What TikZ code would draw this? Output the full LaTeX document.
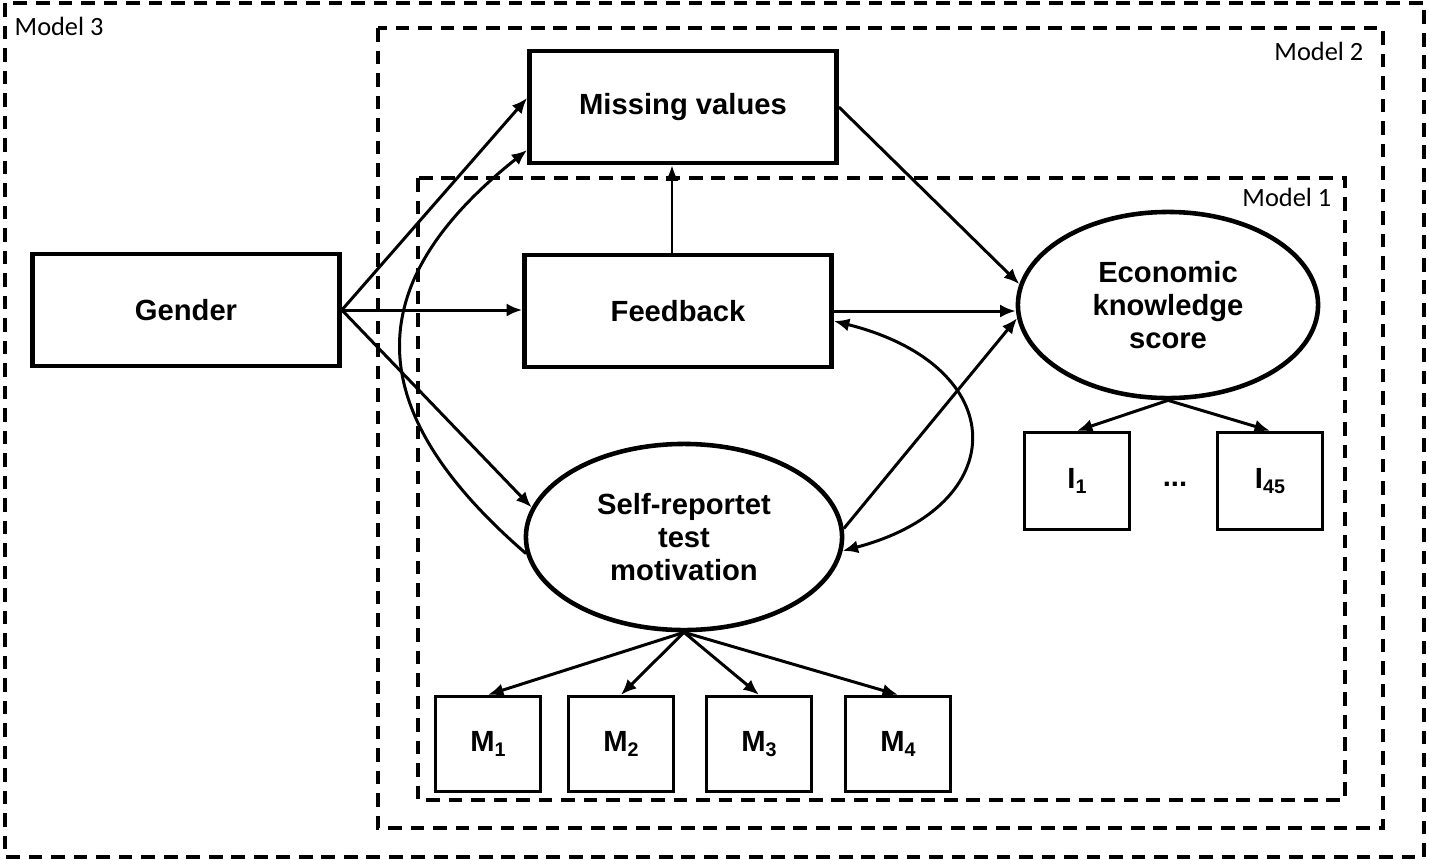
\documentclass[tikz,border=0pt]{standalone}
\usepackage{fontspec}
\setmainfont{Liberation Sans}
\newfontfamily\modelfont{Carlito}
\usepackage{tikz}
\usetikzlibrary{arrows.meta,shapes.geometric,calc}
\newcommand{\idx}[1]{\raisebox{-0.35ex}{\fontsize{5.6}{6}\selectfont #1}}

\begin{document}
\begin{tikzpicture}[x=0.01cm,y=-0.01cm,
        lbl/.style={font=\fontsize{8.3}{9.5}\selectfont\bfseries, align=center},
        bigbox/.style={lbl,draw,line width=1.3pt,minimum width=3.07cm,minimum height=1.12cm,inner sep=0pt},
        ind/.style={lbl,draw,line width=0.95pt,minimum width=1.05cm,minimum height=0.95cm,inner sep=0pt},
        latent/.style={lbl,draw,ellipse,line width=1.3pt,minimum width=3.0cm,minimum height=1.86cm,inner sep=0pt},
        model/.style={line width=1pt,dash pattern=on 3.9pt off 2.5pt},
        mlabel/.style={font=\modelfont\fontsize{7.5}{8}\selectfont,inner sep=0pt},
        arr/.style={-{Latex[length=4.4pt,width=3.7pt]},line width=0.85pt},
        dblarr/.style={{Latex[length=4.4pt,width=3.7pt]}-{Latex[length=4.4pt,width=3.7pt]},line width=0.85pt}]
        \useasboundingbox (0,0) rectangle (1429,860);

        % model frames
        \draw[model] (5,3) rectangle (1424,857);
        \draw[model] (378,28) rectangle (1383,828);
        \draw[model] (418,178) rectangle (1345,800);
        \node[mlabel,anchor=base west] (m3lbl) at (14,35) {Model 3};
        \node[mlabel,anchor=base east] (m2lbl) at (1364,60) {Model 2};
        \node[mlabel,anchor=base east] (m1lbl) at (1332,206) {Model 1};

        % observed and latent variables
        \node[bigbox] (gender) at (186,310) {Gender};
        \node[bigbox] (missing) at (683,107) {Missing values};
        \node[bigbox] (feedback) at (678,311) {Feedback};
        \node[latent] (econ) at (1168,305) {Economic\\knowledge\\score};
        \node[latent,minimum width=3.16cm] (self) at (684,537) {Self-reportet\\test\\motivation};

        % indicators
        \foreach \n/\x in {1/488,2/621,3/759,4/898}
            \node[ind] (m\n) at (\x,744) {M\idx{\n}};
        \node[ind,minimum height=0.97cm] (i1) at (1077,481) {I\idx{1}};
        \node[ind,minimum height=0.97cm] (i45) at (1270,481) {I\idx{45}};
        \node[lbl] (dots) at (1175,484) {...};

        % paths
        \draw[arr] (gender.east) -- ([yshift=0.09cm]missing.west);
        \draw[arr] (gender.east) -- (gender.east -| feedback.west);
        \draw[arr] (gender.east) -- (self.169);
        \draw[arr] (self.186) .. controls (359,409) and (359,284) .. ([yshift=-0.43cm]missing.west);

        \coordinate (fbtop) at ([xshift=-0.06cm]feedback.north);
        \draw[arr] (fbtop) -- (fbtop |- missing.south);

        \draw[arr] (missing.east) -- (econ.172);
        \draw[arr] (feedback.east) -- (feedback.east -| econ.west);
        \draw[arr] (self.3) -- (econ.185);
        \draw[dblarr] ([yshift=-0.1cm]feedback.east) .. controls (1013,366) and (1013,506) .. (self.-5);

        \draw[arr] (econ.south) -- (i1.north);
        \draw[arr] (econ.south) -- (i45.north);
        \foreach \n in {1,...,4}
            \draw[arr] (self.south) -- (m\n.north);
\end{tikzpicture}
\end{document}
